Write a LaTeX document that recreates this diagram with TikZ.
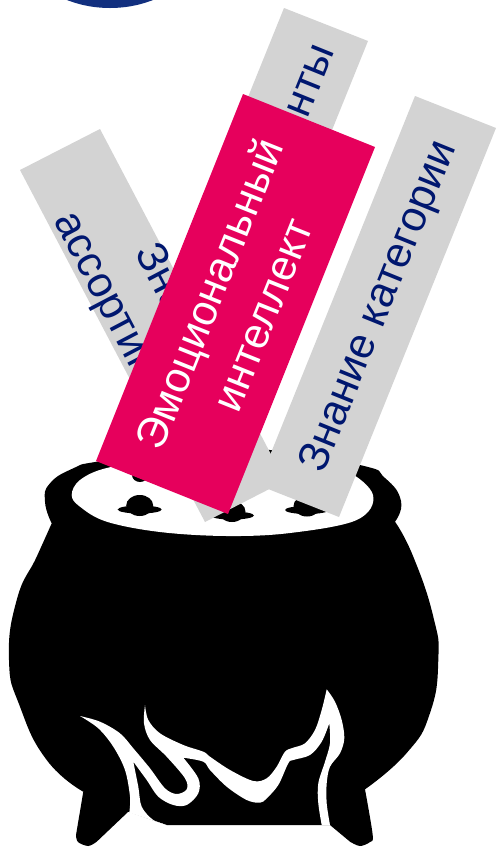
\documentclass[tikz,border=0pt]{standalone}
\usepackage{fontspec}
\setmainfont{Liberation Sans}
\definecolor{cardgray}{HTML}{D3D3D3}
\definecolor{cardpink}{HTML}{E6005C}
\definecolor{cardnavy}{HTML}{00176F}
\definecolor{discnavy}{HTML}{12307F}
\tikzset{
  lbl/.style={inner sep=0pt,align=center,font=\fontsize{43}{57}\selectfont,text=cardnavy},
  lblw/.style={lbl,text=white},
  sm/.style={smooth,tension=0.55},
  smb/.style={smooth,tension=0.85},
}
\begin{document}
\begin{tikzpicture}[x=1pt,y=-1pt]
\useasboundingbox (0,0) rectangle (496,847);
\fill[white] (0,0) rectangle (496,847);
% top disc
\begin{scope}
\clip (0,0) rectangle (496,847);
\fill[discnavy] (110,-112) circle (120);
\end{scope}
% pot silhouette
\fill[black]
  plot[smb] coordinates {(51.7,523.3) (45,501.7) (50,483.3) (73.3,468.3) (96.7,461.7) (160,453) (223,449) (270,450) (360,465) (385,478) (401,501) (395,521.7)}
  -- plot[smb] coordinates {(395,521.7) (413.3,556.7) (433.3,616.7) (438.3,660) (430,713) (406.7,753) (365,789.3)}
  -- plot[sm] coordinates {(365,789.3) (372.7,835) (370,842) (360,846) (350,841.7)}
  -- (330,825) -- (166.7,825) -- (128.3,811.7) -- (96.7,841.7)
  -- plot[sm] coordinates {(96.7,841.7) (88.3,846) (78,842) (76,835)}
  -- plot[sm] coordinates {(76,835) (83.3,791.7)}
  -- plot[smb] coordinates {(83.3,791.7) (46.7,760) (20,706.7) (9,660) (16.7,600) (36.7,556.7) (51.7,523.3)}
  -- cycle;
% pot opening
\fill[white] plot[smooth cycle,tension=0.6] coordinates {(71.7,495) (80,480) (106.7,468) (160,460) (223,458) (300,460) (345,470) (373,495) (356.7,520) (290,533) (226.7,536) (160,532) (106.7,521.7) (80,506.7)};
% blobs in the pot
\foreach \bx/\by in {139.7/509.5,232/515.5,307/510}{
  \fill[black] (\bx,\by) ellipse [x radius=22,y radius=4];
  \fill[black] (\bx,\by-4) ellipse [x radius=13.5,y radius=10.5];
}
\fill[black] (140,475) ellipse [x radius=8,y radius=7];
% flames
\fill[white]
  plot[sm] coordinates {(129.3,812.7) (130,796.7) (125,770) (113.3,746.7) (98.3,728.3) (80,716)}
  -- plot[sm] coordinates {(80,716) (100,721.7) (120,733.3) (133.3,748.3) (150,768.3) (165,788.3) (176.7,794) (186.7,789.3) (185,778.3) (166.7,756.7) (150,740) (144,723.3) (145,705)}
  -- plot[sm] coordinates {(145,705) (148.3,720) (160,733.3) (183.3,745) (203.3,751.7) (210,756.7) (230,770) (253.3,781) (266.7,778.3) (276.7,766.7) (285,751.7) (293.3,747.7) (305,743.3) (315,730) (321.7,710) (326.7,689.3)}
  -- plot[sm] coordinates {(326.7,689.3) (335,701.7) (341.7,720) (344.3,738.3) (340,753.3) (330,766.7) (326.7,783.3) (326.7,803.3) (330,825)}
  -- (321.7,825)
  -- plot[sm] coordinates {(321.7,825) (318.3,803.3) (318.3,783.3) (325,761.7) (330,743.3) (329.3,723.3)}
  -- plot[sm] coordinates {(329.3,723.3) (321.7,741.7) (310,755) (293.3,760) (288.3,763.3) (278.3,785) (266.7,798.3) (260,802.7) (246.7,800) (226.7,786.7) (210,770) (203.3,761.7) (183.3,757.7)}
  -- plot[sm] coordinates {(183.3,757.7) (198.3,778.3) (198.3,793.3) (186.7,805) (173.3,805) (158.3,796.7) (146.7,780) (133.3,761.7)}
  -- plot[sm] coordinates {(133.3,761.7) (138.3,786.7) (141.7,806.7) (153.3,820) (166.7,825)}
  -- cycle;
% cards
\fill[cardgray] (20,170) -- (100,129) -- (285,481) -- (205,522) -- cycle;
\node[lbl,rotate=-62.3] (assort) at (152.5,325.5) {Знание\\ассортимента};
\fill[cardgray] (284,8) -- (368,41) -- (250,333) -- (166,300) -- cycle;
\node[lbl,rotate=68,anchor=east] (top) at (325,46) {нты};
\fill[cardgray] (415,96) -- (496,128) -- (339,517) -- (258,485) -- cycle;
\node[lbl,rotate=68] (categ) at (380,307) {Знание категории};
\fill[cardpink] (243,94) -- (375,147) -- (228,514) -- (96,461) -- cycle;
\node[lblw,rotate=68.2] (emo) at (235,304) {Эмоциональный\\интеллект};
\end{tikzpicture}
\end{document}
